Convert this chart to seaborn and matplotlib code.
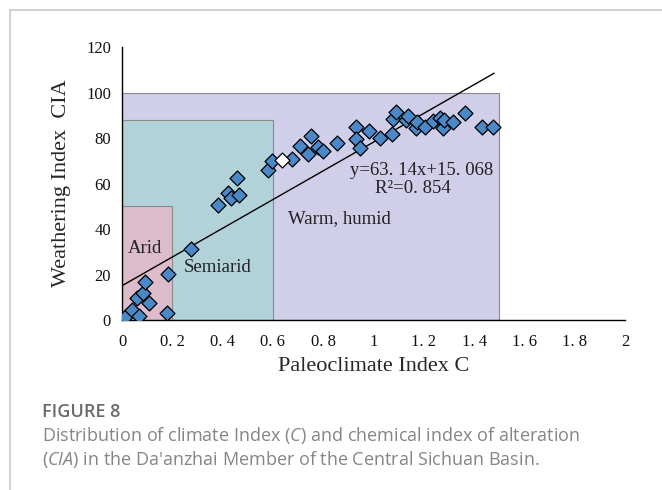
import numpy as np
import pandas as pd
import matplotlib
matplotlib.use("Agg")
import matplotlib.pyplot as plt
import seaborn as sns
from matplotlib.patches import Rectangle
from matplotlib.lines import Line2D

# ========== DATA ==========
paleo_c = [0.012, 0.038, 0.069, 0.058, 0.085, 0.091, 0.109, 0.178, 0.182, 0.273,
           0.383, 0.423, 0.432, 0.466, 0.459, 0.582, 0.595, 0.675, 0.708, 0.738,
           0.751, 0.781, 0.800, 0.854, 0.929, 0.929, 0.946, 0.983, 1.026, 1.072,
           1.079, 1.088, 1.128, 1.138, 1.169, 1.172, 1.205, 1.235, 1.264, 1.278,
           1.282, 1.318, 1.364, 1.433, 1.476]
cia = [1.5, 4.4, 1.9, 9.5, 11.7, 16.8, 7.3, 3.2, 20.1, 31.2,
       50.5, 56.0, 53.5, 54.9, 62.3, 65.9, 70.0, 70.6, 76.6, 73.0,
       80.9, 75.9, 74.4, 77.9, 85.0, 79.4, 75.5, 83.2, 80.1, 81.6,
       88.4, 91.3, 87.9, 89.8, 84.3, 87.2, 85.0, 87.6, 88.9, 84.3,
       87.9, 87.2, 90.9, 84.7, 85.0]
# one sample drawn unfilled in the source figure
hollow_c = [0.635]
hollow_cia = [70.3]

# climate zones: (name, C max, CIA max)
zone_names = ["Warm, humid", "Semiarid", "Arid"]
zone_c_max = [1.5, 0.6, 0.2]
zone_cia_max = [100, 88, 50]
zone_colors = ["#d0cee8", "#b2d2da", "#dcbccb"]

# linear fit y = slope*x + intercept
slope = 63.14
intercept = 15.068
fit_range = [0.0, 1.48]

x_ticks = [0, 0.2, 0.4, 0.6, 0.8, 1.0, 1.2, 1.4, 1.6, 1.8, 2.0]
x_tick_labels = ["0", "0. 2", "0. 4", "0. 6", "0. 8", "1", "1. 2", "1. 4", "1. 6", "1. 8", "2"]
y_ticks = [0, 20, 40, 60, 80, 100, 120]

df = pd.DataFrame({"C": paleo_c, "CIA": cia})

# ========== PLOT ==========
sns.set_style("white")
plt.rcParams["font.family"] = ["Liberation Serif", "DejaVu Serif"]
plt.rcParams["mathtext.fontset"] = "custom"
plt.rcParams["mathtext.rm"] = "Open Sans"
plt.rcParams["mathtext.it"] = "Open Sans:italic"

fig = plt.figure(figsize=(6.62, 4.9), dpi=100)
ax = fig.add_axes([0.1843, 0.3469, 0.7598, 0.5571])

# zone boxes
for name, cmax, ymax, col in zip(zone_names, zone_c_max, zone_cia_max, zone_colors):
    ax.add_patch(Rectangle((0, 0), cmax, ymax, facecolor=col,
                           edgecolor="#8a8a8a", linewidth=0.8, zorder=1))

# fit line
fx = np.array(fit_range)
ax.plot(fx, slope * fx + intercept, color="black", linewidth=1.0, zorder=2)

sns.scatterplot(data=df, x="C", y="CIA", ax=ax, marker="D", s=58,
                color="#4a88c8", edgecolor="black", linewidth=0.9, zorder=3)
ax.scatter(hollow_c, hollow_cia, marker="D", s=58, facecolor="white",
           edgecolor="black", linewidth=0.9, zorder=3)

txt = dict(fontsize=13.5, va="center", color="#222222")
ax.text(0.022, 31.5, "Arid", ha="left", **txt)
ax.text(0.245, 23.3, "Semiarid", ha="left", **txt)
ax.text(0.662, 44.4, "Warm, humid", ha="left", **txt)
ax.text(1.19, 65.9, "y=63. 14x+15. 068", ha="center", **txt)
ax.text(1.158, 57.6, "R²=0. 854", ha="center", **txt)

ax.set_xlim(0, 2)
ax.set_ylim(0, 120)
ax.set_xticks(x_ticks)
ax.set_xticklabels(x_tick_labels)
ax.set_yticks(y_ticks)
ax.tick_params(direction="out", length=4, width=1, labelsize=12, colors="#111111")
ax.tick_params(axis="x", pad=6)
ax.tick_params(axis="y", pad=4)
ax.set_xlabel("Paleoclimate Index C", fontsize=16, labelpad=5)
ax.set_ylabel("Weathering Index  CIA", fontsize=16, labelpad=11)
for side in ["top", "right"]:
    ax.spines[side].set_visible(False)
for side in ["left", "bottom"]:
    ax.spines[side].set_color("black")
    ax.spines[side].set_linewidth(1.0)
ax.set_facecolor("none")

# card frame (top and left edges)
fig.add_artist(Line2D([10 / 662, 1], [1 - 10 / 490, 1 - 10 / 490], color="#c8c8c8", linewidth=1.2))
fig.add_artist(Line2D([10 / 662, 10 / 662], [0, 1 - 10 / 490], color="#c8c8c8", linewidth=1.2))

# caption
fig.text(42 / 662, 1 - 417 / 490, "FIGURE 8", fontsize=13, fontweight=600,
         family="Open Sans", color="#6a6a6a", va="baseline")
fig.text(42 / 662, 1 - 441 / 490,
         r"Distribution of climate Index ($\mathit{C}$) and chemical index of alteration",
         fontsize=13, family="Open Sans", color="#858585", va="baseline")
fig.text(42 / 662, 1 - 465 / 490,
         r"($\mathit{CIA}$) in the Da'anzhai Member of the Central Sichuan Basin.",
         fontsize=13, family="Open Sans", color="#858585", va="baseline")

fig.savefig("out.png", dpi=100)
